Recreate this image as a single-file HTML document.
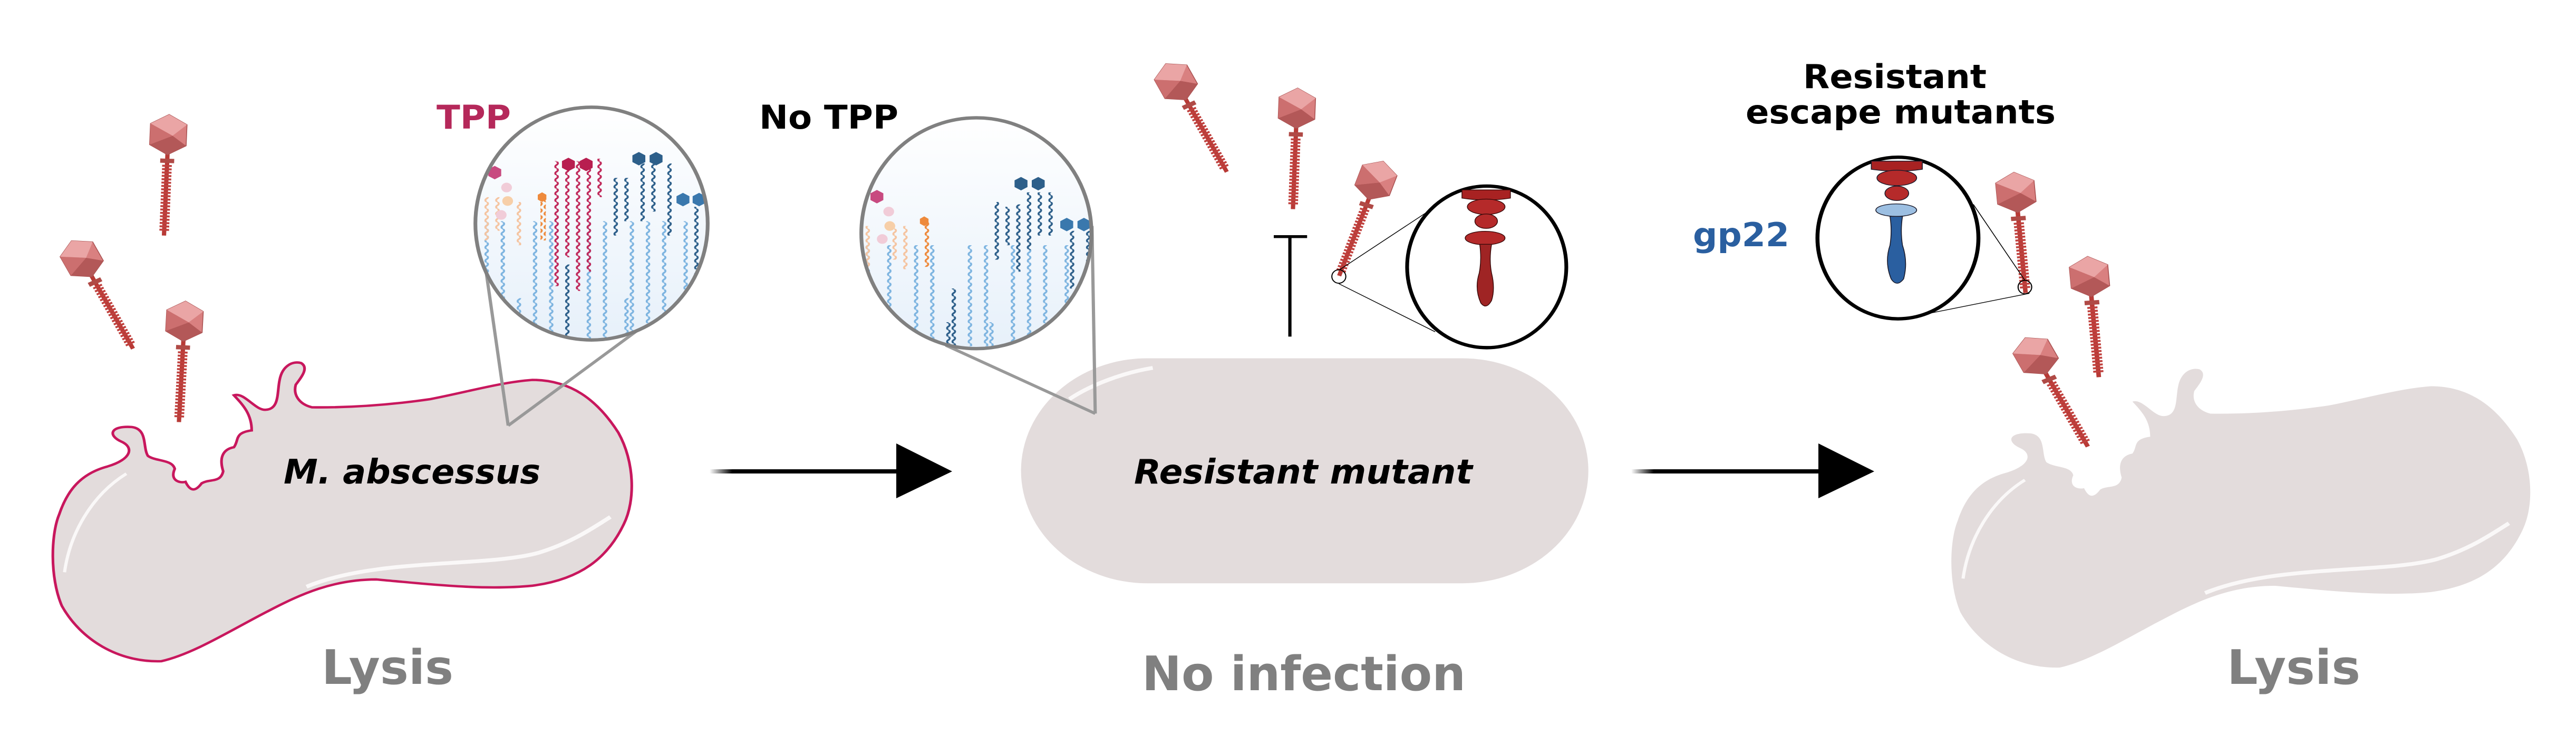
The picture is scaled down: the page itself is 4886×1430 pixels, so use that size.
<!DOCTYPE html>
<html><head><meta charset="utf-8"><style>
html,body{margin:0;padding:0;background:#fff;}
svg{display:block;}
text{font-family:"DejaVu Sans","Liberation Sans",sans-serif;font-weight:bold;}
</style></head><body>
<svg width="4886" height="1430" viewBox="0 0 4886 1430" xmlns="http://www.w3.org/2000/svg">
<defs>
<pattern id="wb" width="10" height="14" patternUnits="userSpaceOnUse"><path d="M5 0 Q10 3.5 5 7 Q0 10.5 5 14" stroke="#7db4e0" stroke-width="3.5" fill="none"/></pattern>
<pattern id="wm" width="10" height="14" patternUnits="userSpaceOnUse"><path d="M5 0 Q10 3.5 5 7 Q0 10.5 5 14" stroke="#c0285a" stroke-width="3.5" fill="none"/></pattern>
<pattern id="wd" width="10" height="14" patternUnits="userSpaceOnUse"><path d="M5 0 Q10 3.5 5 7 Q0 10.5 5 14" stroke="#2d5f8a" stroke-width="3.5" fill="none"/></pattern>
<pattern id="wp" width="10" height="14" patternUnits="userSpaceOnUse"><path d="M5 0 Q10 3.5 5 7 Q0 10.5 5 14" stroke="#f5c4a0" stroke-width="3.5" fill="none"/></pattern>
<pattern id="wo" width="10" height="14" patternUnits="userSpaceOnUse"><path d="M5 0 Q10 3.5 5 7 Q0 10.5 5 14" stroke="#ee8a3c" stroke-width="3.5" fill="none"/></pattern>
<pattern id="rg" width="20" height="7" patternUnits="userSpaceOnUse"><rect x="0" y="0" width="20" height="4" fill="#c0413e"/></pattern>
<linearGradient id="bg" x1="0" y1="0" x2="0" y2="1"><stop offset="0" stop-color="#fff"/><stop offset="1" stop-color="#e6f0fa"/></linearGradient>
<linearGradient id="fade" x1="0" y1="0" x2="1" y2="0"><stop offset="0" stop-color="#000" stop-opacity="0"/><stop offset="0.12" stop-color="#000"/></linearGradient>
<g id="ph">
 <rect x="-4" y="38" width="8" height="172" fill="#b83a36"/>
 <rect x="-9" y="62" width="18" height="140" fill="url(#rg)"/>
 <rect x="-13" y="50" width="26" height="9" fill="#b04a46"/>
 <polygon points="0,-42 34,-22 34,22 0,42 -34,22 -34,-22" fill="#d98080" stroke="#a85050" stroke-width="1.5"/>
 <polygon points="0,-42 34,-22 8,2 -34,-22" fill="#eaa5a5"/>
 <polygon points="0,42 34,22 8,2 -34,22" fill="#b35858"/>
 <polygon points="-34,-22 8,2 -34,22" fill="#cc6f6f"/>
</g>
<path id="cellp" d="M580,847 C650,848 720,843 800,830 C870,815 930,795 990,790 C1060,790 1110,830 1150,900 C1180,960 1182,1040 1160,1090 C1130,1160 1080,1205 990,1218 C900,1228 800,1215 700,1205 C620,1205 560,1235 500,1270 C430,1310 360,1360 300,1375 C220,1378 150,1330 115,1260 C92,1200 95,1110 110,1070 C125,1020 150,985 200,970 C245,955 250,930 225,918 C200,905 205,885 245,888 C275,892 265,930 275,948 C290,960 320,955 325,975 C315,1000 335,1005 345,1002 C355,1025 365,1020 375,1005 C390,995 410,1005 415,980 C408,955 412,935 435,930 C445,915 435,900 468,895 C468,860 450,840 435,822 C455,815 475,855 495,852 C520,850 515,815 520,790 C525,760 545,750 560,755 C575,765 560,785 550,800 C545,820 555,840 580,847 Z"/>
</defs>

<!-- Panel 1 -->
<g transform="scale(1.02,0.912)">
 <use href="#cellp" fill="#e3dcdc" stroke="#c8175d" stroke-width="5"/>
 <path d="M120,1190 C130,1110 170,1030 235,985" stroke="#fff" stroke-width="6" fill="none" opacity="0.8"/>
 <path d="M570,1220 C700,1160 900,1180 1000,1150 C1060,1130 1100,1100 1135,1075" stroke="#fff" stroke-width="8" fill="none" opacity="0.8"/>
 <line x1="945" y1="885" x2="895" y2="495" stroke="#999" stroke-width="6"/>
 <line x1="945" y1="885" x2="1200" y2="675" stroke="#999" stroke-width="6"/>
 <clipPath id="c1"><ellipse cx="1100" cy="465" rx="214" ry="240"/></clipPath>
 <g clip-path="url(#c1)">
  <rect x="880" y="220" width="440" height="500" fill="url(#bg)"/>
  <rect x="900" y="460" width="10" height="250" fill="url(#wb)"/>
  <rect x="930" y="460" width="10" height="250" fill="url(#wb)"/>
  <rect x="960" y="620" width="10" height="90" fill="url(#wb)"/>
  <rect x="990" y="460" width="10" height="250" fill="url(#wb)"/>
  <rect x="1020" y="460" width="10" height="250" fill="url(#wb)"/>
  <rect x="1050" y="550" width="10" height="160" fill="url(#wd)"/>
  <rect x="1090" y="460" width="10" height="250" fill="url(#wb)"/>
  <rect x="1120" y="460" width="10" height="250" fill="url(#wb)"/>
  <rect x="1160" y="620" width="10" height="90" fill="url(#wb)"/>
  <rect x="1170" y="460" width="10" height="250" fill="url(#wb)"/>
  <rect x="1200" y="460" width="10" height="250" fill="url(#wb)"/>
  <rect x="1230" y="460" width="10" height="250" fill="url(#wb)"/>
  <rect x="1270" y="460" width="10" height="250" fill="url(#wb)"/>
  <rect x="1290" y="430" width="10" height="280" fill="url(#wd)"/>
  <rect x="1030" y="335" width="10" height="260" fill="url(#wm)"/>
  <rect x="1050" y="335" width="10" height="200" fill="url(#wm)"/>
  <rect x="1070" y="335" width="10" height="270" fill="url(#wm)"/>
  <rect x="1090" y="335" width="10" height="230" fill="url(#wm)"/>
  <rect x="1110" y="330" width="10" height="80" fill="url(#wm)"/>
  <rect x="1140" y="370" width="10" height="120" fill="url(#wd)"/>
  <rect x="1160" y="370" width="10" height="90" fill="url(#wd)"/>
  <rect x="1190" y="340" width="10" height="120" fill="url(#wd)"/>
  <rect x="1210" y="340" width="10" height="100" fill="url(#wd)"/>
  <rect x="1240" y="340" width="10" height="150" fill="url(#wd)"/>
  <rect x="900" y="410" width="10" height="90" fill="url(#wp)"/>
  <rect x="920" y="410" width="10" height="70" fill="url(#wp)"/>
  <rect x="960" y="420" width="10" height="90" fill="url(#wp)"/>
  <rect x="1005" y="405" width="10" height="95" fill="url(#wo)"/>
  <polygon points="920,345 932,352 932,366 920,373 908,366 908,352" fill="#c84a80"/>
  <circle cx="942" cy="390" r="10" fill="#f1ccd8"/><circle cx="944" cy="418" r="10" fill="#f7cfa8"/><circle cx="932" cy="447" r="10" fill="#f1ccd8"/>
  <polygon points="1057,328 1069,335 1069,349 1057,356 1045,349 1045,335" fill="#b81e50"/>
  <polygon points="1090,328 1102,335 1102,349 1090,356 1078,349 1078,335" fill="#b81e50"/>
  <polygon points="1188,316 1200,323 1200,337 1188,344 1176,337 1176,323" fill="#2d5f8a"/>
  <polygon points="1220,316 1232,323 1232,337 1220,344 1208,337 1208,323" fill="#2d5f8a"/>
  <polygon points="1270,401 1282,408 1282,422 1270,429 1258,422 1258,408" fill="#3a78ad"/>
  <polygon points="1300,401 1312,408 1312,422 1300,429 1288,422 1288,408" fill="#3a78ad"/>
  <polygon points="1008,400 1016,405 1016,415 1008,420 1000,415 1000,405" fill="#ee8a3c"/>
 </g>
 <ellipse cx="1100" cy="465" rx="216" ry="242" fill="none" stroke="#808080" stroke-width="7"/>
 <use href="#ph" transform="translate(313,280) rotate(2.2)"/>
 <use href="#ph" transform="translate(152,538) rotate(-27)"/>
 <use href="#ph" transform="translate(343,668) rotate(2.8)"/>
</g>

<!-- Panel 2 -->
<g transform="translate(1600,0) scale(1.02,0.912)">
 <rect x="330" y="745" width="1055" height="468" rx="235" ry="235" fill="#e3dcdc"/>
 <path d="M420,830 C460,800 520,775 575,765" stroke="#fff" stroke-width="8" fill="none" opacity="0.8"/>
 <line x1="468" y1="860" x2="190" y2="718" stroke="#999" stroke-width="6"/>
 <line x1="468" y1="860" x2="462" y2="470" stroke="#999" stroke-width="6"/>
 <clipPath id="c2"><ellipse cx="247" cy="485" rx="212" ry="238"/></clipPath>
 <g clip-path="url(#c2)">
  <rect x="30" y="240" width="440" height="500" fill="url(#bg)"/>
  <rect x="40" y="510" width="10" height="200" fill="url(#wb)"/>
  <rect x="80" y="510" width="10" height="130" fill="url(#wb)"/>
  <rect x="130" y="510" width="10" height="210" fill="url(#wb)"/>
  <rect x="160" y="510" width="10" height="210" fill="url(#wb)"/>
  <rect x="190" y="670" width="10" height="50" fill="url(#wd)"/>
  <rect x="200" y="600" width="10" height="120" fill="url(#wd)"/>
  <rect x="230" y="510" width="10" height="210" fill="url(#wb)"/>
  <rect x="260" y="510" width="10" height="210" fill="url(#wb)"/>
  <rect x="270" y="670" width="10" height="50" fill="url(#wb)"/>
  <rect x="310" y="510" width="10" height="210" fill="url(#wb)"/>
  <rect x="340" y="510" width="10" height="210" fill="url(#wb)"/>
  <rect x="370" y="510" width="10" height="210" fill="url(#wb)"/>
  <rect x="410" y="510" width="10" height="210" fill="url(#wb)"/>
  <rect x="280" y="420" width="10" height="120" fill="url(#wd)"/>
  <rect x="300" y="430" width="10" height="80" fill="url(#wd)"/>
  <rect x="320" y="425" width="10" height="140" fill="url(#wd)"/>
  <rect x="340" y="400" width="10" height="120" fill="url(#wd)"/>
  <rect x="360" y="400" width="10" height="90" fill="url(#wd)"/>
  <rect x="380" y="400" width="10" height="90" fill="url(#wd)"/>
  <rect x="420" y="480" width="10" height="120" fill="url(#wd)"/>
  <rect x="450" y="480" width="10" height="100" fill="url(#wd)"/>
  <rect x="40" y="470" width="10" height="90" fill="url(#wp)"/>
  <rect x="90" y="470" width="10" height="70" fill="url(#wp)"/>
  <rect x="110" y="470" width="10" height="90" fill="url(#wp)"/>
  <rect x="150" y="460" width="10" height="95" fill="url(#wo)"/>
  <polygon points="62,395 74,402 74,416 62,423 50,416 50,402" fill="#c84a80"/>
  <circle cx="84" cy="440" r="10" fill="#f1ccd8"/><circle cx="86" cy="470" r="10" fill="#f7cfa8"/><circle cx="72" cy="497" r="10" fill="#f1ccd8"/>
  <polygon points="150,450 158,455 158,465 150,470 142,465 142,455" fill="#ee8a3c"/>
  <polygon points="330,368 342,375 342,389 330,396 318,389 318,375" fill="#2d5f8a"/>
  <polygon points="362,368 374,375 374,389 362,396 350,389 350,375" fill="#2d5f8a"/>
  <polygon points="415,453 427,460 427,474 415,481 403,474 403,460" fill="#3a78ad"/>
  <polygon points="447,453 459,460 459,474 447,481 435,474 435,460" fill="#3a78ad"/>
 </g>
 <ellipse cx="247" cy="485" rx="214" ry="240" fill="none" stroke="#808080" stroke-width="7"/>
 <use href="#ph" transform="translate(618,170) rotate(-26.8)"/>
 <use href="#ph" transform="translate(843,225) rotate(2)"/>
 <use href="#ph" transform="translate(990,375) rotate(19)"/>
 <line x1="830" y1="492" x2="830" y2="700" stroke="#000" stroke-width="6"/>
 <line x1="800" y1="492" x2="862" y2="492" stroke="#000" stroke-width="6"/>
 <ellipse cx="921" cy="575" rx="13" ry="14" fill="none" stroke="#000" stroke-width="2"/>
 <line x1="921" y1="562" x2="1100" y2="430" stroke="#000" stroke-width="1.5"/>
 <line x1="921" y1="590" x2="1100" y2="690" stroke="#000" stroke-width="1.5"/>
 <ellipse cx="1196" cy="555" rx="148" ry="168" fill="#fff" stroke="#000" stroke-width="7"/>
 <g stroke="#3a0a0a" stroke-width="1.5" fill="#b52a2a">
  <path d="M1150,395 L1240,395 L1240,412 Q1195,420 1150,412 Z" fill="#a82222"/>
  <ellipse cx="1195" cy="430" rx="35" ry="16"/>
  <ellipse cx="1195" cy="460" rx="21" ry="15"/>
  <ellipse cx="1193" cy="495" rx="37" ry="14"/>
  <path d="M1183,508 L1205,508 Q1200,540 1205,568 Q1212,600 1205,625 Q1195,645 1185,630 Q1173,600 1182,568 Q1187,540 1183,508 Z" fill="#9f2424"/>
 </g>
</g>

<!-- Panel 3 -->
<g transform="translate(3601,12)">
 <g transform="scale(1.02,0.912)"><use href="#cellp" fill="#e3dcdc"/>
 <path d="M120,1190 C130,1110 170,1030 235,985" stroke="#fff" stroke-width="6" fill="none" opacity="0.8"/>
 <path d="M570,1220 C700,1160 900,1180 1000,1150 C1060,1130 1100,1100 1135,1075" stroke="#fff" stroke-width="8" fill="none" opacity="0.8"/></g>
</g>
<g transform="translate(3200,0) scale(1.075,0.912)">
 <use href="#ph" transform="translate(580,400) rotate(-4.7)"/>
 <use href="#ph" transform="translate(710,575) rotate(-4.5)"/>
 <use href="#ph" transform="translate(615,740) rotate(-26)"/>
 <ellipse cx="596" cy="597" rx="12" ry="14" fill="none" stroke="#000" stroke-width="2"/>
 <line x1="596" y1="583" x2="505" y2="425" stroke="#000" stroke-width="1.5"/>
 <line x1="604" y1="610" x2="400" y2="658" stroke="#000" stroke-width="1.5"/>
 <ellipse cx="372" cy="495" rx="142" ry="168" fill="#fff" stroke="#000" stroke-width="7"/>
 <g stroke="#1a1a2a" stroke-width="1.5">
  <path d="M325,335 L415,335 L415,352 Q370,360 325,352 Z" fill="#a82222"/>
  <ellipse cx="370" cy="370" rx="35" ry="16" fill="#b52a2a"/>
  <ellipse cx="370" cy="402" rx="21" ry="15" fill="#b52a2a"/>
  <ellipse cx="369" cy="437" rx="36" ry="13" fill="#9cbfe2"/>
  <path d="M358,450 L380,450 Q376,480 380,510 Q390,545 382,580 Q370,598 360,580 Q348,545 358,510 Q362,480 358,450 Z" fill="#2a5fa0"/>
 </g>
</g>

<!-- Arrows -->
<rect x="1346" y="890" width="360" height="8" fill="url(#fade)"/>
<polygon points="1700,841 1806,894 1700,945" fill="#000"/>
<rect x="3094" y="890" width="360" height="8" fill="url(#fade)"/>
<polygon points="3449,841 3555,894 3449,945" fill="#000"/>

<!-- Texts -->
<text x="828" y="244" font-size="62" fill="#b5285a" textLength="141" lengthAdjust="spacingAndGlyphs">TPP</text>
<text x="1440" y="244" font-size="62" fill="#000" textLength="264" lengthAdjust="spacingAndGlyphs">No TPP</text>
<text x="538" y="917" font-size="64" font-style="italic" fill="#000" textLength="487" lengthAdjust="spacingAndGlyphs">M. abscessus</text>
<text x="2151" y="917" font-size="64" font-style="italic" fill="#000" textLength="642" lengthAdjust="spacingAndGlyphs">Resistant mutant</text>
<text x="610" y="1297" font-size="90" fill="#808080" textLength="250" lengthAdjust="spacingAndGlyphs">Lysis</text>
<text x="2166" y="1309" font-size="90" fill="#808080" textLength="614" lengthAdjust="spacingAndGlyphs">No infection</text>
<text x="4224" y="1297" font-size="90" fill="#808080" textLength="253" lengthAdjust="spacingAndGlyphs">Lysis</text>
<text x="3420" y="167" font-size="62" fill="#000" textLength="348" lengthAdjust="spacingAndGlyphs">Resistant</text>
<text x="3311" y="234" font-size="62" fill="#000" textLength="588" lengthAdjust="spacingAndGlyphs">escape mutants</text>
<text x="3211" y="467" font-size="62" fill="#2a5fa0" textLength="183" lengthAdjust="spacingAndGlyphs">gp22</text>
</svg>
</body></html>
